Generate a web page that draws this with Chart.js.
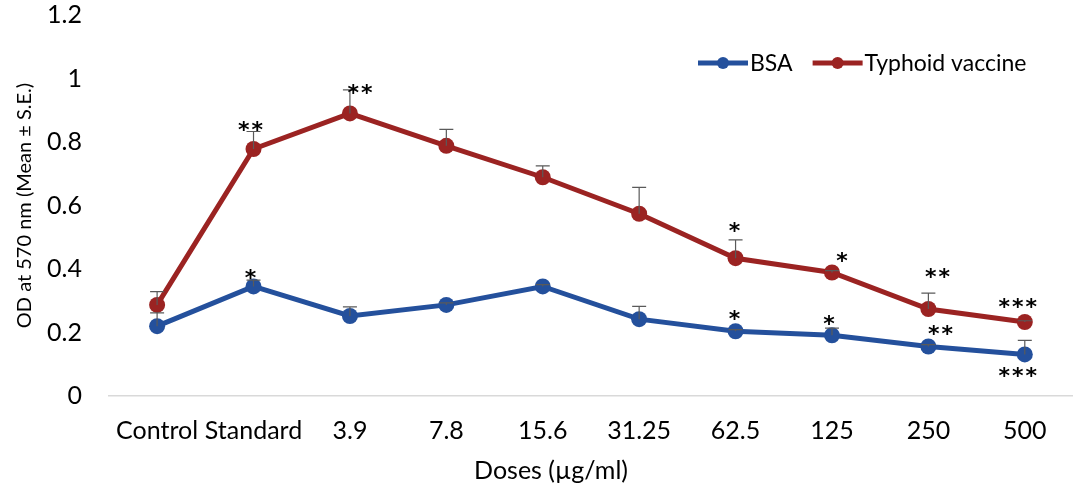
<!DOCTYPE html>
<html>
<head>
<meta charset="utf-8">
<script src="https://cdn.jsdelivr.net/npm/chart.js@4"></script>
<style>
  html, body { margin: 0; padding: 0; background: #fff; }
  .chart-wrapper { position: relative; width: 1073px; height: 491px; }
</style>
</head>
<body>
<div class="chart-wrapper"><canvas id="odChart"></canvas></div>
<script>
const doses = ['Control', 'Standard', '3.9', '7.8', '15.6', '31.25', '62.5', '125', '250', '500'];

const bsaMeans = [0.220, 0.345, 0.252, 0.287, 0.345, 0.242, 0.204, 0.191, 0.156, 0.131];
const bsaErrors = [0.042, 0.020, 0.029, 0.006, 0.006, 0.040, 0.005, 0.023, 0.006, 0.044];
const bsaSignif = ['', '*', '', '', '', '', '*', '*', '**', '***'];

const vaccineMeans = [0.287, 0.778, 0.890, 0.788, 0.689, 0.574, 0.434, 0.389, 0.274, 0.233];
const vaccineErrors = [0.042, 0.055, 0.074, 0.052, 0.036, 0.083, 0.058, 0.006, 0.050, 0.004];
const vaccineSignif = ['', '**', '**', '', '', '', '*', '*', '**', '***'];

const yTicks = [0, 0.2, 0.4, 0.6, 0.8, 1, 1.2];

const blue = '#24509c';
const red = '#9b2322';
const fontFamily = 'Lato, "Open Sans", sans-serif';

// pixel nudges for the significance stars, relative to each point [dx, dy]
const starNudges = {
    0: { 1: [-2, -12], 6: [0, -16], 7: [-2, -15], 8: [13, -16], 9: [-6, 18] },
    1: { 1: [-2, -23], 2: [11, -24], 6: [0, -31], 7: [11, -15], 8: [10, -36], 9: [-6, -19] }
};

const errorBarPlugin = {
    id: 'errorBars',
    afterDatasetsDraw(chart) {
        const ctx = chart.ctx;
        const yScale = chart.scales.y;
        chart.data.datasets.forEach((ds, di) => {
            const meta = chart.getDatasetMeta(di);
            ctx.save();
            ctx.strokeStyle = '#5a5a5a';
            ctx.lineWidth = 1.2;
            meta.data.forEach((pt, i) => {
                const err = ds.errors[i];
                if (!err) return;
                const yTop = yScale.getPixelForValue(ds.data[i] + err);
                ctx.beginPath();
                ctx.moveTo(pt.x, pt.y);
                ctx.lineTo(pt.x, yTop);
                ctx.moveTo(pt.x - 7, yTop);
                ctx.lineTo(pt.x + 7, yTop);
                ctx.stroke();
            });
            ctx.restore();
        });
    },
    afterDraw(chart) {
        const ctx = chart.ctx;

        // significance stars
        ctx.save();
        ctx.fillStyle = '#000';
        ctx.font = 'bold 22px "DejaVu Sans", sans-serif';
        ctx.textAlign = 'center';
        ctx.textBaseline = 'middle';
        ctx.letterSpacing = '2px';
        chart.data.datasets.forEach((ds, di) => {
            const meta = chart.getDatasetMeta(di);
            meta.data.forEach((pt, i) => {
                const label = ds.signif[i];
                if (!label) return;
                const n = (starNudges[di] && starNudges[di][i]) || [0, -18];
                ctx.fillText(label, pt.x + n[0], pt.y + n[1] + 5);
            });
        });
        ctx.restore();

        // legend: line with marker, then the label
        ctx.save();
        ctx.font = '23px ' + fontFamily;
        ctx.textBaseline = 'middle';
        ctx.textAlign = 'left';
        let x = 698;
        const y = 63;
        chart.data.datasets.forEach(ds => {
            ctx.strokeStyle = ds.borderColor;
            ctx.lineWidth = 5;
            ctx.beginPath();
            ctx.moveTo(x, y);
            ctx.lineTo(x + 50, y);
            ctx.stroke();
            ctx.fillStyle = ds.borderColor;
            ctx.beginPath();
            ctx.arc(x + 25, y, 6, 0, Math.PI * 2);
            ctx.fill();
            ctx.fillStyle = '#000';
            ctx.fillText(ds.label, x + 52, y + 1);
            x += 52 + ctx.measureText(ds.label).width + 20;
        });
        ctx.restore();

        // x axis title
        ctx.save();
        ctx.font = '25px ' + fontFamily;
        ctx.fillStyle = '#000';
        ctx.textAlign = 'center';
        ctx.textBaseline = 'middle';
        ctx.fillText('Doses (µg/ml)', 551, 471);
        ctx.restore();
    }
};

const ctx = document.getElementById('odChart').getContext('2d');
new Chart(ctx, {
    type: 'line',
    data: {
        labels: doses,
        datasets: [
            {
                label: 'BSA',
                data: bsaMeans,
                errors: bsaErrors,
                signif: bsaSignif,
                borderColor: blue,
                backgroundColor: blue,
                borderWidth: 5,
                pointRadius: 8,
                pointHoverRadius: 8,
                pointBorderWidth: 0,
                tension: 0
            },
            {
                label: 'Typhoid vaccine',
                data: vaccineMeans,
                errors: vaccineErrors,
                signif: vaccineSignif,
                borderColor: red,
                backgroundColor: red,
                borderWidth: 5,
                pointRadius: 8,
                pointHoverRadius: 8,
                pointBorderWidth: 0,
                tension: 0
            }
        ]
    },
    options: {
        responsive: true,
        maintainAspectRatio: false,
        animation: false,
        layout: { autoPadding: false, padding: { top: 4, right: -4, bottom: 45, left: 13 } },
        plugins: {
            legend: { display: false },
            title: { display: false },
            tooltip: { enabled: false }
        },
        scales: {
            x: {
                offset: true,
                grid: { display: false, drawTicks: true, tickLength: 20 },
                border: { display: true, color: '#d9d9d9', width: 1.5 },
                ticks: {
                    color: '#000',
                    padding: 0,
                    maxRotation: 0,
                    autoSkip: false,
                    font: { family: fontFamily, size: 25 }
                }
            },
            y: {
                min: 0,
                max: 1.2,
                afterBuildTicks: axis => { axis.ticks = yTicks.map(v => ({ value: v })); },
                grid: { display: false, drawTicks: true, tickLength: 27 },
                border: { display: false },
                ticks: {
                    color: '#000',
                    padding: 0,
                    font: { family: fontFamily, size: 25 },
                    callback: v => String(v)
                },
                title: {
                    display: true,
                    text: 'OD at 570 nm (Mean ± S.E.)',
                    color: '#000',
                    font: { family: fontFamily, size: 20 },
                    padding: { top: 0, bottom: 10 }
                }
            }
        }
    },
    plugins: [errorBarPlugin]
});
</script>
</body>
</html>
